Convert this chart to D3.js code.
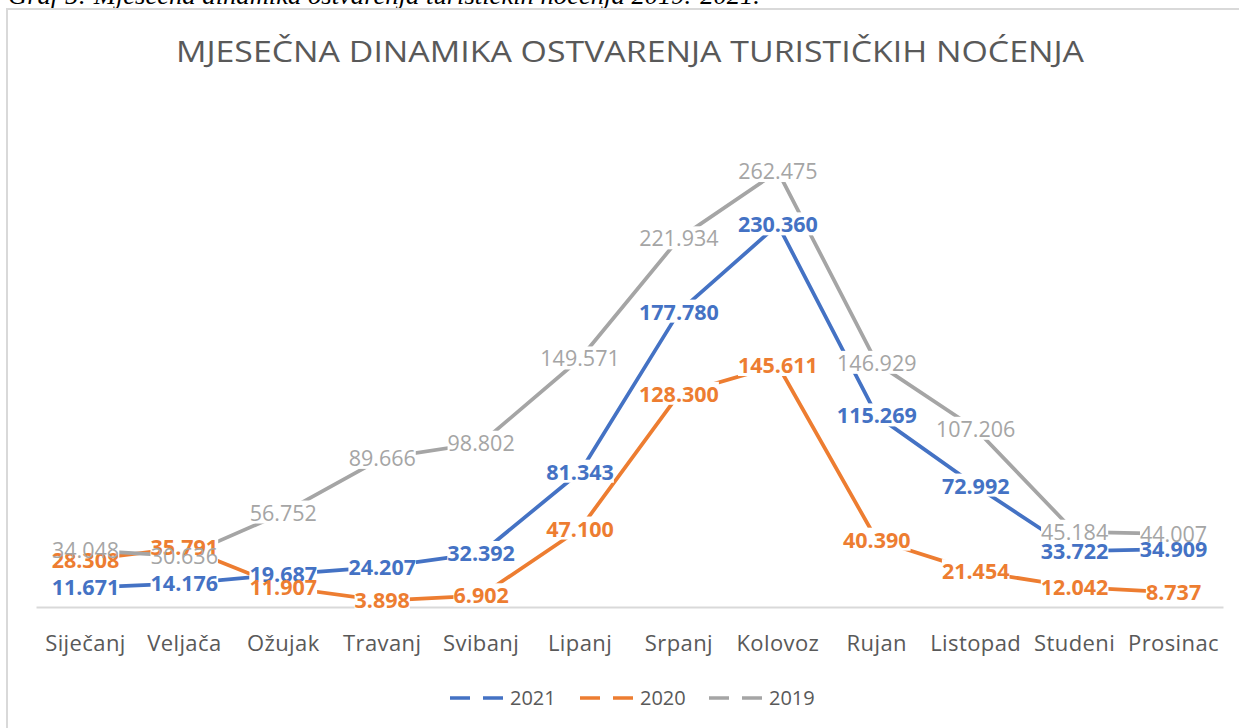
<!DOCTYPE html>
<html>
<head>
<meta charset="utf-8">
<script src="https://cdn.jsdelivr.net/npm/d3@7"></script>
<style>
  body { margin: 0; background: #fff; }
  svg { display: block; }
</style>
</head>
<body>
<div id="chart"></div>
<script>
// monthly tourist nights, 2019 - 2021
var months = ["Siječanj", "Veljača", "Ožujak", "Travanj", "Svibanj", "Lipanj",
              "Srpanj", "Kolovoz", "Rujan", "Listopad", "Studeni", "Prosinac"];
var v2021 = [11671, 14176, 19687, 24207, 32392, 81343, 177780, 230360, 115269, 72992, 33722, 34909];
var v2020 = [28308, 35791, 11907, 3898, 6902, 47100, 128300, 145611, 40390, 21454, 12042, 8737];
var v2019 = [34048, 30636, 56752, 89666, 98802, 149571, 221934, 262475, 146929, 107206, 45184, 44007];
var seriesNames = ["2021", "2020", "2019"];
var seriesColors = ["#4472C4", "#ED7D31", "#A5A5A5"];
var yMax = 300000;

var W = 1239, H = 728;
var margin = { top: 109, right: 16, bottom: 121, left: 36 };

var loc = d3.formatLocale({ decimal: ",", thousands: ".", grouping: [3], currency: ["", ""] });
var fmt = loc.format(",d");

var svg = d3.select("#chart").append("svg")
  .attr("width", W).attr("height", H);

// caption above the chart box (cut off at top)
svg.append("text")
  .attr("x", 8).attr("y", 4)
  .attr("textLength", 752).attr("lengthAdjust", "spacingAndGlyphs")
  .style("font-family", "'Liberation Serif', serif")
  .style("font-style", "italic")
  .style("font-size", "25px")
  .attr("fill", "#000")
  .text("Graf 5: Mjesečna dinamika ostvarenja turističkih noćenja 2019.-2021.");

// chart area frame
svg.append("rect")
  .attr("x", 7).attr("y", 9)
  .attr("width", W + 20).attr("height", H + 20)
  .attr("fill", "none").attr("stroke", "#d9d9d9").attr("stroke-width", 2);

svg.append("text")
  .attr("x", 630).attr("y", 62)
  .attr("text-anchor", "middle")
  .attr("textLength", 908).attr("lengthAdjust", "spacingAndGlyphs")
  .style("font-family", "'Open Sans', sans-serif")
  .style("font-weight", 400)
  .style("font-size", "29px")
  .attr("fill", "#595959")
  .text("MJESEČNA DINAMIKA OSTVARENJA TURISTIČKIH NOĆENJA");

var x = d3.scaleBand().domain(months).range([margin.left, W - margin.right]);
var y = d3.scaleLinear().domain([0, yMax]).range([H - margin.bottom, margin.top]);

// category axis
var xAxis = svg.append("g")
  .attr("transform", "translate(0," + y(0) + ")")
  .call(d3.axisBottom(x).tickSize(0).tickPadding(0));
xAxis.select(".domain").attr("stroke", "#d9d9d9").attr("stroke-width", 2);
xAxis.selectAll("text")
  .attr("dy", null)
  .attr("y", 44)
  .style("font-family", "'Open Sans', sans-serif")
  .style("font-size", "22px")
  .style("letter-spacing", "0.4px")
  .attr("fill", "#595959");

var allSeries = [v2021, v2020, v2019];
var line = d3.line()
  .x(function(d, i) { return x(months[i]) + x.bandwidth() / 2; })
  .y(function(d) { return y(d); });

allSeries.forEach(function(vals, s) {
  svg.append("path")
    .datum(vals)
    .attr("d", line)
    .attr("fill", "none")
    .attr("stroke", seriesColors[s])
    .attr("stroke-width", 3.75)
    .attr("stroke-linejoin", "round");
});

// data labels with white boxes behind them
var boxLayer = svg.append("g");
var textLayer = svg.append("g");
allSeries.forEach(function(vals, s) {
  vals.forEach(function(v, i) {
    var t = textLayer.append("text")
      .attr("x", x(months[i]) + x.bandwidth() / 2)
      .attr("y", y(v))
      .attr("dy", "0.36em")
      .attr("text-anchor", "middle")
      .style("font-family", "'Open Sans', sans-serif")
      .style("font-size", "21.5px")
      .style("font-weight", s === 2 ? 500 : 700)
      .attr("fill", seriesColors[s])
      .text(fmt(v));
    var bb = t.node().getBBox();
    boxLayer.append("rect")
      .attr("x", bb.x).attr("y", bb.y + 3)
      .attr("width", bb.width).attr("height", bb.height - 6)
      .attr("fill", "#fff");
  });
});

// legend
var legendX = [450, 580, 709];
var legend = svg.append("g");
seriesNames.forEach(function(n, s) {
  var g = legend.append("g").attr("transform", "translate(" + legendX[s] + ",698)");
  g.append("line").attr("x1", 0).attr("x2", 55).attr("y1", 0).attr("y2", 0)
    .attr("stroke", seriesColors[s]).attr("stroke-width", 3.5)
    .attr("stroke-dasharray", "20,13");
  g.append("text").attr("x", 60).attr("y", 7)
    .style("font-family", "'Open Sans', sans-serif")
    .style("font-size", "20px")
    .attr("fill", "#595959")
    .text(n);
});
</script>
</body>
</html>
